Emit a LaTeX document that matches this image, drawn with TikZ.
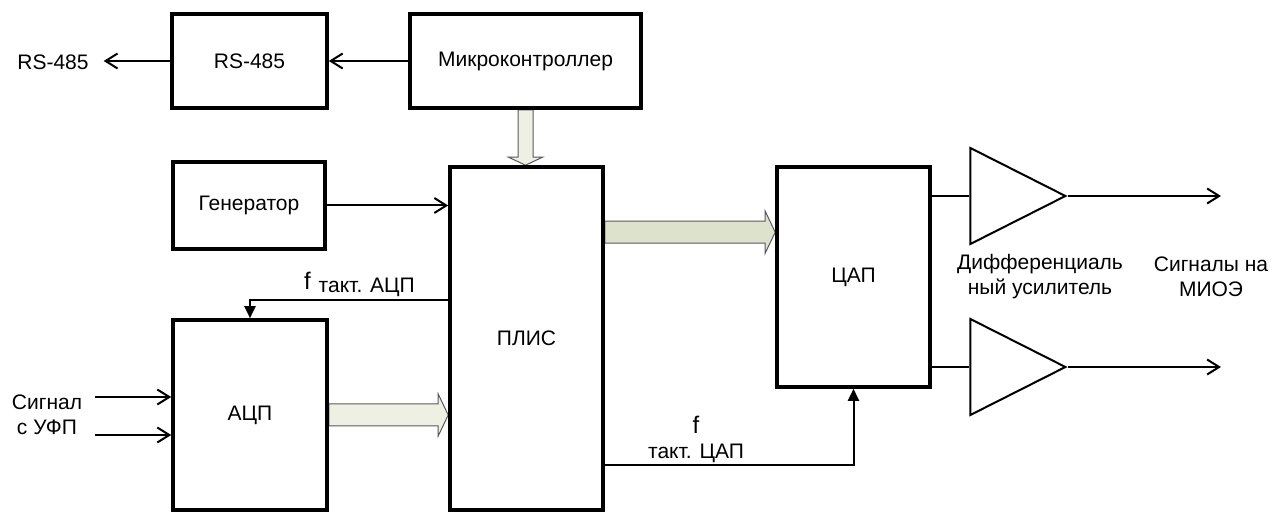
\documentclass[tikz,border=0pt]{standalone}
\usepackage{fontspec}
\setmainfont{Liberation Sans}
\usetikzlibrary{arrows.meta,calc,backgrounds,shapes.geometric}
\definecolor{busA}{RGB}{238,240,228}
\definecolor{busB}{RGB}{221,226,205}
\newcommand{\fsz}{\fontsize{10.5}{12.5}\selectfont}
\newcommand{\fbig}{\fontsize{12}{13}\selectfont}
\tikzset{
  % --- blocks ----------------------------------------------------------
  blk/.style  ={draw, line width=1.8pt, inner sep=0pt, align=center, font=\fsz},
  amp/.style  ={draw, isosceles triangle, isosceles triangle stretches,
                minimum width=48pt, minimum height=47.5pt, inner sep=0pt,
                line width=1pt},
  lbl/.style  ={align=center, font=\fsz},
  % --- connectors ------------------------------------------------------
  wire/.style ={line width=1pt},
  barb/.style ={-{Straight Barb[length=6pt,width=7.5pt]}},
  clk/.style  ={wire, -{Triangle[length=6pt,width=5.5pt]}},
  bus/.style  ={draw=black!65, line width=0.5pt},
}
% wide data-bus arrows (horizontal to the right / vertical down)
\newcommand{\busright}[3]{%
  \path[bus, fill=#3] let \p1=(#1), \p2=(#2) in
    (\x1,\y1+5.5pt) -- (\x2-5pt,\y1+5.5pt) -- (\x2-5pt,\y1+10.5pt) -- (\x2,\y1)
    -- (\x2-5pt,\y1-10.5pt) -- (\x2-5pt,\y1-5.5pt) -- (\x1,\y1-5.5pt) -- cycle;}
\newcommand{\busdown}[3]{%
  \path[bus, fill=#3] let \p1=(#1), \p2=(#2) in
    (\x1-3.75pt,\y1) -- (\x1-3.75pt,\y2+4pt) -- (\x1-8.5pt,\y2+4pt) -- (\x1,\y2)
    -- (\x1+8.5pt,\y2+4pt) -- (\x1+3.75pt,\y2+4pt) -- (\x1+3.75pt,\y1) -- cycle;}

\begin{document}
\begin{tikzpicture}[x=0.5pt,y=-0.5pt]
  \useasboundingbox (0,0) rectangle (1273,512);

  % ============================ top row ============================
  \node[lbl] (rsout) at (53,62) {RS-485};
  \node[blk, minimum width=77.5pt, minimum height=47pt] (rs) at (249.5,61) {RS-485};
  \node[blk, minimum width=115.5pt, minimum height=47pt] (mc) at (525.5,61) {Микроконтроллер};

  % ============================ left column ============================
  \node[blk, minimum width=76pt, minimum height=43.5pt] (gen) at (249,205.5) {Генератор};
  \node[blk, minimum width=77pt, minimum height=95pt] (adc) at (250,415) {АЦП};
  \node[lbl] (sig) at (47,415) {Сигнал\\с УФП};

  % ============================ FPGA + DAC ============================
  \node[blk, minimum width=76.5pt, minimum height=171.5pt] (pl) at (526.5,338.5) {ПЛИС};
  \node[blk, minimum width=76.5pt, minimum height=110pt] (dac) at (853.5,277) {ЦАП};

  % ============================ amplifiers + outputs ============================
  \node[amp, anchor=apex] (amp1) at (1068,196) {};
  \node[amp, anchor=apex] (amp2) at (1068,367) {};
  \node[lbl] (amplbl) at (1040,277) {Дифференциаль\\ный усилитель};
  \node[lbl] (outlbl) at (1211,277) {Сигналы на\\МИОЭ};

  % free ends and taps
  \coordinate (sig1) at (95,397);
  \coordinate (sig2) at (95,435);
  \coordinate (fa)   at ($(pl.north west)+(0,135)$);
  \coordinate (fd)   at ($(pl.south east)+(0,-47)$);
  \coordinate (pd)   at ($(pl.north east)+(0,67)$);
  \coordinate (out1) at (1221,196);
  \coordinate (out2) at (1221,367);

  % ============================ data buses ============================
  \begin{scope}[on background layer]
    \busdown{mc.south}{mc.south |- pl.north}{busA}
    \busright{adc.east}{adc.east -| pl.west}{busA}
    \busright{pd}{pd -| dac.west}{busB}
  \end{scope}

  % ============================ signal lines ============================
  \draw[wire, barb] (mc.west) -- (rs.east);
  \draw[wire, barb] (rs.west) -- ([xshift=4pt]rs.west -| rsout.east);
  \draw[wire, barb] (gen.east) -- (gen.east -| pl.west);
  \draw[wire, barb] (sig1) -- (sig1 -| adc.west);
  \draw[wire, barb] (sig2) -- (sig2 -| adc.west);

  % clocks
  \draw[clk] (fa) -| (adc.north);
  \node[lbl, anchor=base west] (fadc) at (297,290) {{\fbig f}\hspace{4pt}\raisebox{-1.5pt}{такт. АЦП}};
  \draw[clk] (fd) -| (dac.south);
  \node[lbl] (fdac) at (696,439) {{\fbig f}\\такт. ЦАП};

  % DAC -> amplifiers -> outputs
  \draw[wire] (amp1.west -| dac.east) -- (amp1.west);
  \draw[wire] (amp2.west -| dac.east) -- (amp2.west);
  \draw[wire, barb] (amp1.apex) -- (out1);
  \draw[wire, barb] (amp2.apex) -- (out2);

\end{tikzpicture}
\end{document}
